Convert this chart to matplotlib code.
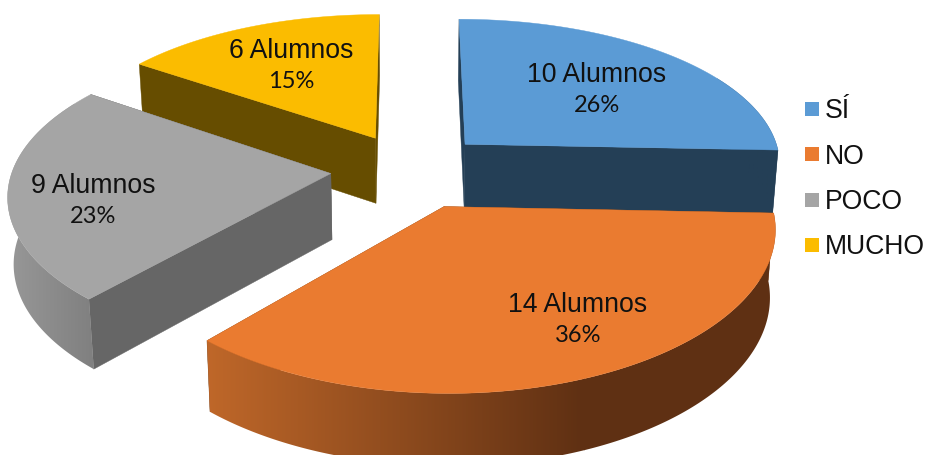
import numpy as np
import matplotlib
matplotlib.use("Agg")
import matplotlib.pyplot as plt
from matplotlib.patches import Polygon, Rectangle
from matplotlib.colors import LinearSegmentedColormap

categorias = ["SÍ", "NO", "POCO", "MUCHO"]
alumnos = [10, 14, 9, 6]

color_tapa = ["#5B9BD5", "#EA7B30", "#A5A5A5", "#FBBC00"]
color_corte = ["#243F56", "#7A3F14", "#666666", "#664D00"]
# degradado de la pared exterior: color izquierdo, color derecho, x inicial, x final
pared_izq = ["#243F56", "#C2692A", "#9A9A9A", "#664D00"]
pared_der = ["#243F56", "#5F3013", "#7E7E7E", "#664D00"]
pared_x = [(460, 790), (195, 585), (0, 100), (130, 390)]

separacion = [0.245, 0.265, 0.25, 0.24]
pos_texto = [(597, 75), (578, 305), (93, 186), (291, 51)]

# parametros de la proyeccion en perspectiva
CX, CY = 410, 170
ESC_X, ESC_Y = 318, 149
PERSP_X = 0.125
PERSP_Y = 0.14
GROSOR = 66
CONV_Z = 0.015


def proyectar(x, y, z=0.0):
    # x, y sobre el plano del pastel; z = 1 es la base
    wx = 1 + PERSP_X * y
    wy = 1 + PERSP_Y * y
    f = 1 - CONV_Z * z
    sx = CX + ESC_X * x / wx * f
    sy = CY - ESC_Y * y / wy + GROSOR * z / np.sqrt(wy)
    return sx, sy


total = sum(alumnos)
fig = plt.figure(figsize=(9.26, 4.56), dpi=100)
ax = fig.add_axes([0, 0, 1, 1])
limites = np.cumsum([0] + alumnos) / total * 2 * np.pi

# el naranja va al final porque tapa la base del azul
capa = 1
for i in [0, 3, 2, 1]:
    a0, a1 = limites[i], limites[i + 1]
    medio = (a0 + a1) / 2
    ox = separacion[i] * np.sin(medio)
    oy = separacion[i] * np.cos(medio)
    ang = np.linspace(a0, a1, 200)
    xs = ox + np.sin(ang)
    ys = oy + np.cos(ang)

    # caras de corte
    for extremo in [a0, a1]:
        ex, ey = ox + np.sin(extremo), oy + np.cos(extremo)
        cara = [proyectar(ox, oy, 0), proyectar(ex, ey, 0),
                proyectar(ex, ey, 1), proyectar(ox, oy, 1)]
        ax.add_patch(Polygon(cara, closed=True, fc=color_corte[i], ec=color_corte[i],
                             lw=0.3, zorder=capa))
    capa += 1

    # pared exterior, solo el tramo que mira al frente
    frente = np.cos(ang) < 0.5
    if frente.sum() > 1:
        arriba = [proyectar(x, y, 0) for x, y in zip(xs[frente], ys[frente])]
        abajo = [proyectar(x, y, 1) for x, y in zip(xs[frente], ys[frente])]
        pared = Polygon(arriba + abajo[::-1], closed=True, transform=ax.transData, fc="none", ec="none")
        ax.add_patch(pared)
        mapa = LinearSegmentedColormap.from_list("pared", [pared_izq[i], pared_der[i]])
        gradiente = np.linspace(0, 1, 256).reshape(1, -1)
        fondo = ax.imshow(gradiente, cmap=mapa, aspect="auto", zorder=capa,
                          extent=[pared_x[i][0], pared_x[i][1], 456, 0])
        fondo.set_clip_path(pared)
        # fuera del rango del degradado queda el color del extremo
        pts = np.array(arriba + abajo[::-1])
        if pts[:, 0].max() > pared_x[i][1]:
            resto = Rectangle((pared_x[i][1] - 1, 0), pts[:, 0].max() - pared_x[i][1] + 2, 456,
                              fc=pared_der[i], ec="none", zorder=capa)
            ax.add_patch(resto)
            resto.set_clip_path(pared)
    capa += 1

    # tapa superior
    borde = [proyectar(ox, oy)] + [proyectar(x, y) for x, y in zip(xs, ys)]
    ax.add_patch(Polygon(borde, closed=True, fc=color_tapa[i], ec=color_tapa[i], lw=0.3, zorder=capa))
    capa += 1

    tx, ty = pos_texto[i]
    ax.text(tx, ty, f"{alumnos[i]} Alumnos", ha="center", va="center", color="#111111",
            family="Liberation Sans", fontsize=19.2, zorder=50)
    ax.text(tx, ty + 31, f"{round(100 * alumnos[i] / total)}%", ha="center", va="center",
            color="#111111", family="Lato", fontsize=17, zorder=50)

# leyenda
for i, nombre in enumerate(categorias):
    y = 110 + 45.3 * i
    ax.add_patch(Rectangle((805, y - 7), 14, 14, fc=color_tapa[i], ec="none"))
    ax.text(825, y + 1.5, nombre, ha="left", va="center", color="#111111",
            family="Liberation Sans", fontsize=19.2)

ax.set_xlim(0, 926)
ax.set_ylim(456, 0)
ax.axis("off")

fig.savefig("out.png", dpi=100)
